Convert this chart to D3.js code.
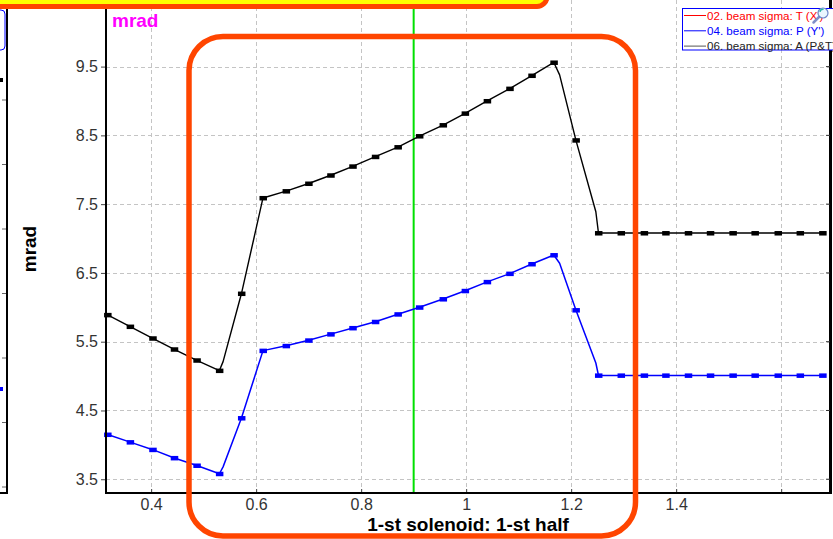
<!DOCTYPE html>
<html>
<head>
<meta charset="utf-8">
<script src="https://cdn.jsdelivr.net/npm/d3@7"></script>
<style>
  html, body { margin: 0; padding: 0; background: #fff; }
  svg { display: block; font-family: "Liberation Sans", Arial, sans-serif; }
</style>
</head>
<body>
<svg id="chart" width="833" height="539"></svg>
<script>
// Solenoid scan: beam divergence (mrad) vs. first-half solenoid setting
const xs = [0.317, 0.360, 0.403, 0.444, 0.487, 0.530, 0.537, 0.572, 0.613, 0.657,
            0.700, 0.742, 0.784, 0.827, 0.870, 0.911, 0.956, 0.998, 1.040, 1.083,
            1.125, 1.167, 1.178, 1.209, 1.247, 1.252, 1.295, 1.339, 1.380, 1.423,
            1.465, 1.508, 1.550, 1.594, 1.636, 1.679];
const sigmaA = [5.89, 5.72, 5.55, 5.39, 5.23, 5.08, 5.21, 6.20, 7.59, 7.69,
                7.80, 7.92, 8.05, 8.19, 8.33, 8.49, 8.65, 8.82, 9.00, 9.18,
                9.37, 9.56, 9.38, 8.43, 7.39, 7.08, 7.08, 7.08, 7.08, 7.08,
                7.08, 7.08, 7.08, 7.08, 7.08, 7.08];
const sigmaP = [4.15, 4.04, 3.93, 3.81, 3.70, 3.58, 3.68, 4.39, 5.37, 5.44,
                5.52, 5.61, 5.70, 5.79, 5.90, 6.00, 6.12, 6.24, 6.37, 6.49,
                6.63, 6.76, 6.64, 5.96, 5.19, 5.01, 5.01, 5.01, 5.01, 5.01,
                5.01, 5.01, 5.01, 5.01, 5.01, 5.01];
// interpolated vertices of the polyline that carry no marker
const unmarked = [6, 22, 24];

const xTicks = [0.4, 0.6, 0.8, 1.0, 1.2, 1.4, 1.6];
const xTickLabels = ["0.4", "0.6", "0.8", "1", "1.2", "1.4", ""];
const yTicks = [3.5, 4.5, 5.5, 6.5, 7.5, 8.5, 9.5];
const cursorX = 0.9;

const legendItems = [
  { label: "02. beam sigma: T (X')", color: "#ff0000", text: "#ff0000" },
  { label: "04. beam sigma: P (Y')", color: "#0000ff", text: "#0000ff" },
  { label: "06. beam sigma: A (P&T)", color: "#555555", text: "#222222" }
];

const svg = d3.select("#chart");
const L = 106, R = 830, T = 0, B = 493;

const x = d3.scaleLinear().domain([0.314, 1.693]).range([L, R]);
const y = d3.scaleLinear().domain([3.3, 10.4]).range([B, 4.7]);

svg.append("rect").attr("width", 833).attr("height", 539).attr("fill", "#fff");

// remnants of the neighbouring panel on the left
const lp = svg.append("g");
lp.append("rect").attr("x", -60).attr("y", 10).attr("width", 65).attr("height", 40)
  .attr("rx", 4).attr("fill", "#fff").attr("stroke", "#0000ff").attr("stroke-width", 1);
lp.append("line").attr("x1", 7).attr("x2", 7).attr("y1", 0).attr("y2", B + 1)
  .attr("stroke", "#000").attr("stroke-width", 2);
lp.append("line").attr("x1", 0).attr("x2", 8).attr("y1", B).attr("y2", B)
  .attr("stroke", "#000").attr("stroke-width", 2);
lp.selectAll("line.t").data([100, 164.5, 229, 293.5, 358, 422.5, 487]).join("line")
  .attr("x1", 2).attr("x2", 6).attr("y1", d => d).attr("y2", d => d)
  .attr("stroke", "#666").attr("stroke-width", 1);
lp.append("rect").attr("x", -4).attr("y", 78).attr("width", 7).attr("height", 4).attr("fill", "#000");
lp.append("rect").attr("x", -4).attr("y", 387).attr("width", 7).attr("height", 4).attr("fill", "#0000ff");

// grid
const grid = svg.append("g").attr("stroke", "#c4c4c4").attr("stroke-width", 1)
  .attr("stroke-dasharray", "4,3");
grid.selectAll("line.v").data(xTicks).join("line")
  .attr("x1", d => Math.round(x(d)) + 0.5).attr("x2", d => Math.round(x(d)) + 0.5)
  .attr("y1", T).attr("y2", B);
grid.selectAll("line.h").data(yTicks).join("line")
  .attr("x1", L).attr("x2", R)
  .attr("y1", d => Math.round(y(d)) + 0.5).attr("y2", d => Math.round(y(d)) + 0.5);

// cursor line
svg.append("line")
  .attr("x1", x(cursorX)).attr("x2", x(cursorX)).attr("y1", T).attr("y2", B)
  .attr("stroke", "#00e000").attr("stroke-width", 2);

// series
const series = [
  { values: sigmaA, color: "#000000", width: 1.4 },
  { values: sigmaP, color: "#0000ff", width: 1.5 }
];
const lineGen = d3.line().x(d => x(d[0])).y(d => y(d[1]));
series.forEach(s => {
  const pts = xs.map((v, i) => [v, s.values[i], i]);
  svg.append("path").datum(pts).attr("d", lineGen)
    .attr("fill", "none").attr("stroke", s.color).attr("stroke-width", s.width)
    .attr("stroke-linejoin", "round");
  svg.append("g").selectAll("rect")
    .data(pts.filter(p => !unmarked.includes(p[2]))).join("rect")
    .attr("x", d => x(d[0]) - 3.5).attr("y", d => y(d[1]) - 2)
    .attr("width", 7.5).attr("height", 4.5).attr("fill", s.color);
});

// axes
const axisG = svg.append("g");
axisG.append("line").attr("x1", L).attr("x2", L).attr("y1", T).attr("y2", B + 1)
  .attr("stroke", "#000").attr("stroke-width", 2);
axisG.append("line").attr("x1", L - 1).attr("x2", R + 2).attr("y1", B).attr("y2", B)
  .attr("stroke", "#000").attr("stroke-width", 2);
axisG.append("line").attr("x1", R + 0.5).attr("x2", R + 0.5).attr("y1", T).attr("y2", B + 1)
  .attr("stroke", "#000").attr("stroke-width", 3);

const yAxis = d3.axisLeft(y).tickValues(yTicks).tickSize(4).tickPadding(3)
  .tickFormat(d3.format(".1f"));
svg.append("g").attr("transform", `translate(${L - 1},0)`).call(yAxis)
  .call(g => g.select(".domain").remove())
  .call(g => g.selectAll("text").attr("font-size", 16).attr("fill", "#333")
    .attr("font-family", "Liberation Sans, Arial, sans-serif"))
  .call(g => g.selectAll("line").attr("stroke", "#444"));

// inner ticks on right and bottom edges
svg.append("g").selectAll("line").data(yTicks).join("line")
  .attr("x1", R - 4).attr("x2", R).attr("y1", d => y(d)).attr("y2", d => y(d))
  .attr("stroke", "#333");

const xAxis = d3.axisBottom(x).tickValues(xTicks).tickSize(-3).tickPadding(7)
  .tickFormat((d, i) => xTickLabels[i]);
svg.append("g").attr("transform", `translate(0,${B - 1})`).call(xAxis)
  .call(g => g.select(".domain").remove())
  .call(g => g.selectAll("text").attr("font-size", 16).attr("fill", "#333")
    .attr("font-family", "Liberation Sans, Arial, sans-serif"))
  .call(g => g.selectAll("line").attr("stroke", "#444"));

// titles
svg.append("text").attr("x", (L + R) / 2).attr("y", 531)
  .attr("text-anchor", "middle").attr("font-size", 19).attr("font-weight", "bold")
  .attr("fill", "#000").text("1-st solenoid: 1-st half");
svg.append("text").attr("transform", "translate(36,249) rotate(-90)")
  .attr("text-anchor", "middle").attr("font-size", 19).attr("font-weight", "bold")
  .attr("fill", "#000").text("mrad");
svg.append("text").attr("x", 112).attr("y", 27)
  .attr("font-size", 19).attr("font-weight", "bold").attr("fill", "#ff00ff").text("mrad");

// legend
const lg = svg.append("g");
lg.append("rect").attr("x", 682.5).attr("y", 8.5).attr("width", 170).attr("height", 41.5)
  .attr("fill", "#fff").attr("stroke", "#0000ff").attr("stroke-width", 1);
legendItems.forEach((it, i) => {
  const yy = 15.5 + i * 15.3;
  lg.append("line").attr("x1", 684).attr("x2", 706).attr("y1", yy).attr("y2", yy)
    .attr("stroke", it.color).attr("stroke-width", 1);
  lg.append("text").attr("x", 707).attr("y", yy + 4).attr("font-size", 11.6)
    .attr("fill", it.text).text(it.label);
});
// zoom icon
lg.append("line").attr("x1", 819).attr("y1", 17).attr("x2", 813.5).attr("y2", 22.5)
  .attr("stroke", "#7f8fc8").attr("stroke-width", 2.5).attr("stroke-linecap", "round");
lg.append("circle").attr("cx", 823).attr("cy", 13).attr("r", 5)
  .attr("fill", "#eaf6ff").attr("stroke", "#6d86c9").attr("stroke-width", 1.2);
lg.append("path").attr("d", "M820,12 a3.2,3.2 0 0 1 3.6,-2.7").attr("fill", "none")
  .attr("stroke", "#2ab8a8").attr("stroke-width", 1.3);

// annotation callouts
svg.append("rect").attr("x", 189).attr("y", 36.5).attr("width", 446.5).attr("height", 499.5)
  .attr("rx", 34).attr("ry", 34).attr("fill", "none")
  .attr("stroke", "#ff4500").attr("stroke-width", 5.5);
svg.append("rect").attr("x", -20).attr("y", -40).attr("width", 567).attr("height", 46.5)
  .attr("rx", 10).attr("ry", 10).attr("fill", "#ffff00")
  .attr("stroke", "#ff4500").attr("stroke-width", 5);
</script>
</body>
</html>
